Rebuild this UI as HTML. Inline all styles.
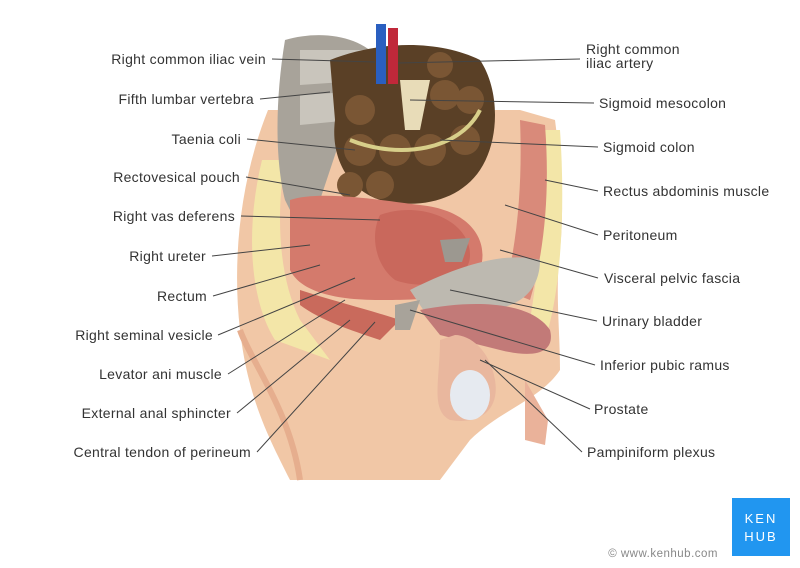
<!DOCTYPE html>
<html><head><meta charset="utf-8"><style>
html,body{margin:0;padding:0;background:#fff;}
svg{display:block}
text{font-family:"Liberation Sans",sans-serif;font-size:14px;letter-spacing:0.3px;fill:#333;}
</style></head><body>
<svg width="800" height="568" viewBox="0 0 800 568" xmlns="http://www.w3.org/2000/svg">
<path d="M268 110 C240 180 232 260 240 330 C248 400 270 440 290 480 L440 480 L470 440 C500 410 540 400 560 370 C560 330 555 290 560 250 C565 200 560 160 555 120 L520 110 Z" fill="#f1c7a6"/>
<path d="M240 330 C250 360 290 410 300 480" stroke="#e6ae8e" stroke-width="6" fill="none"/>
<path d="M262 160 C245 230 250 300 275 340 L330 360 L300 320 C280 280 275 220 285 160 Z" fill="#f3e6a8"/>
<path d="M540 130 L560 130 C565 200 562 280 548 330 L530 320 C540 260 545 200 540 130Z" fill="#f3e6a8"/>
<path d="M520 120 L545 125 C550 190 545 250 530 300 L505 290 C520 230 522 170 520 120Z" fill="#d98a7a"/>
<path d="M285 40 C320 30 360 35 380 60 L370 110 L340 140 L320 200 L300 230 L285 200 C275 160 275 100 285 40Z" fill="#a8a39a"/>
<path d="M300 50 L370 50 L372 80 L300 85Z" fill="#c9c5bc"/>
<path d="M300 95 L350 92 L352 120 L300 125Z" fill="#c9c5bc"/>
<path d="M330 60 C380 40 440 40 480 60 C500 90 500 140 480 170 C460 200 420 210 380 200 C350 190 330 160 335 120 Z" fill="#5a4026"/>
<g fill="#7a5634">
<circle cx="360" cy="150" r="16"/><circle cx="395" cy="150" r="16"/><circle cx="430" cy="150" r="16"/><circle cx="465" cy="140" r="15"/>
<circle cx="445" cy="95" r="15"/><circle cx="470" cy="100" r="14"/><circle cx="360" cy="110" r="15"/><circle cx="440" cy="65" r="13"/>
<circle cx="380" cy="185" r="14"/><circle cx="350" cy="185" r="13"/></g>
<path d="M350 140 C400 160 460 150 480 110" stroke="#d8cf8a" stroke-width="4" fill="none"/>
<path d="M400 80 L430 80 L420 130 L405 130Z" fill="#e8dcb8"/>
<rect x="376" y="24" width="10" height="60" fill="#2a5fc0"/>
<rect x="388" y="28" width="10" height="56" fill="#c0283a"/>
<path d="M290 200 C320 190 380 200 420 205 C470 210 490 240 480 270 C470 300 420 300 380 300 C330 300 300 290 290 270Z" fill="#d47a6c"/>
<path d="M380 215 C420 200 470 220 470 255 C470 285 420 290 395 280 C375 265 370 235 380 215Z" fill="#c9685c"/>
<path d="M410 290 C450 270 500 250 540 260 C540 290 520 310 480 310 L430 320Z" fill="#bdb9b0"/>
<path d="M440 240 L470 238 L462 262 L445 262Z" fill="#9c9890"/>
<path d="M300 290 C330 300 370 310 400 320 L380 340 C350 330 320 320 300 305Z" fill="#c96a5c"/>
<path d="M395 305 L420 300 L410 330 L395 330Z" fill="#a8a39a"/>
<path d="M420 310 C470 300 530 300 550 330 C555 350 540 360 500 350 L440 335Z" fill="#c27a78"/>
<path d="M440 340 C440 380 430 410 450 420 C480 425 500 410 495 380 C490 350 470 335 455 335Z" fill="#e9b79e"/>
<ellipse cx="470" cy="395" rx="20" ry="25" fill="#e6eaf0"/>
<path d="M525 380 L548 420 L545 445 L525 440 Z" fill="#eab29a"/>
<g stroke="#444" stroke-width="1" fill="none">
<line x1="272" y1="59" x2="375" y2="62"/>
<line x1="260" y1="99" x2="330" y2="92"/>
<line x1="247" y1="139" x2="355" y2="150"/>
<line x1="246" y1="177" x2="350" y2="195"/>
<line x1="241" y1="216" x2="380" y2="220"/>
<line x1="212" y1="256" x2="310" y2="245"/>
<line x1="213" y1="296" x2="320" y2="265"/>
<line x1="218" y1="335" x2="355" y2="278"/>
<line x1="228" y1="374" x2="345" y2="300"/>
<line x1="237" y1="413" x2="350" y2="320"/>
<line x1="257" y1="452" x2="375" y2="322"/>
<line x1="580" y1="59" x2="398" y2="63"/>
<line x1="594" y1="103" x2="410" y2="100"/>
<line x1="598" y1="147" x2="440" y2="140"/>
<line x1="598" y1="191" x2="545" y2="180"/>
<line x1="598" y1="235" x2="505" y2="205"/>
<line x1="598" y1="278" x2="500" y2="250"/>
<line x1="597" y1="321" x2="450" y2="290"/>
<line x1="595" y1="365" x2="410" y2="310"/>
<line x1="590" y1="409" x2="480" y2="360"/>
<line x1="582" y1="452" x2="485" y2="360"/>
</g>
<g text-anchor="end">
<text x="266" y="64">Right common iliac vein</text>
<text x="254" y="104">Fifth lumbar vertebra</text>
<text x="241" y="144">Taenia coli</text>
<text x="240" y="182">Rectovesical pouch</text>
<text x="235" y="221">Right vas deferens</text>
<text x="206" y="261">Right ureter</text>
<text x="207" y="301">Rectum</text>
<text x="213" y="340">Right seminal vesicle</text>
<text x="222" y="379">Levator ani muscle</text>
<text x="231" y="418">External anal sphincter</text>
<text x="251" y="457">Central tendon of perineum</text>
</g>
<text x="586" y="54">Right common</text>
<text x="586" y="68">iliac artery</text>
<text x="599" y="108">Sigmoid mesocolon</text>
<text x="603" y="152">Sigmoid colon</text>
<text x="603" y="196">Rectus abdominis muscle</text>
<text x="603" y="240">Peritoneum</text>
<text x="604" y="283">Visceral pelvic fascia</text>
<text x="602" y="326">Urinary bladder</text>
<text x="600" y="370">Inferior pubic ramus</text>
<text x="594" y="414">Prostate</text>
<text x="587" y="457">Pampiniform plexus</text>
<rect x="732" y="498" width="58" height="58" fill="#2196f0"/>
<text x="761" y="523" text-anchor="middle" style="fill:#fff;font-size:13px;letter-spacing:2px">KEN</text>
<text x="761" y="541" text-anchor="middle" style="fill:#fff;font-size:13px;letter-spacing:2px">HUB</text>
<text x="718" y="557" text-anchor="end" style="fill:#888;font-size:11.5px;letter-spacing:0.5px">© www.kenhub.com</text>
</svg>
</body></html>
